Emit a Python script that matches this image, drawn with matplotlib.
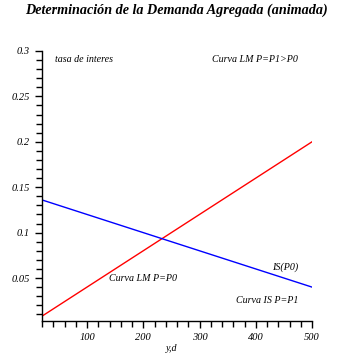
import numpy as np
import matplotlib
matplotlib.use("Agg")
import matplotlib.pyplot as plt
from matplotlib.ticker import MultipleLocator, FixedLocator

plt.rcdefaults()
plt.rcParams['font.family'] = ['Liberation Serif', 'DejaVu Serif']

y_vals = np.array([20, 500])
lm_p0 = np.array([0.008, 0.2])     # red, Curva LM P=P0
is_p0 = np.array([0.136, 0.04])    # blue, IS(P0)

x_ticks = [100, 200, 300, 400, 500]
y_ticks = [0.05, 0.1, 0.15, 0.2, 0.25, 0.3]
y_tick_labels = ['0.05', '0.1', '0.15', '0.2', '0.25', '0.3']

fig = plt.figure(figsize=(3.55, 3.55), dpi=100)
ax = fig.add_axes([42 / 355, 1 - 320.7 / 355, 270 / 355, 269.7 / 355])

ax.plot(y_vals, lm_p0, color='red', lw=1)
ax.plot(y_vals, is_p0, color='blue', lw=1)

ax.set_xlim(20, 500)
ax.set_ylim(0.003, 0.3)

for s in ['top', 'right']:
    ax.spines[s].set_visible(False)
for s in ['left', 'bottom']:
    ax.spines[s].set_linewidth(1)

ax.xaxis.set_major_locator(FixedLocator(x_ticks))
ax.xaxis.set_minor_locator(MultipleLocator(20))
ax.yaxis.set_major_locator(FixedLocator(y_ticks))
ax.yaxis.set_minor_locator(MultipleLocator(0.01))
ax.set_yticklabels(y_tick_labels)
ax.tick_params(which='both', direction='out', width=1, length=5, labelsize=7.5)
ax.tick_params(which='minor', length=4)
for lab in ax.get_xticklabels() + ax.get_yticklabels():
    lab.set_style('italic')

tkw = dict(fontsize=7.2, style='italic')
ax.text(43, 0.291, 'tasa de interes', ha='left', va='center', **tkw)
ax.text(399, 0.291, 'Curva LM P=P1>P0', ha='center', va='center', **tkw)
ax.text(199, 0.049, 'Curva LM P=P0', ha='center', va='center', **tkw)
ax.text(452, 0.0624, 'IS(P0)', ha='center', va='center', **tkw)
ax.text(420, 0.0248, 'Curva IS P=P1', ha='center', va='center', **tkw)

fig.text(176.5 / 355, 1 - 10 / 355, 'Determinación de la Demanda Agregada (animada)',
         ha='center', va='center', fontsize=10.2, weight='bold', style='italic')
fig.text(172 / 355, 1 - 353 / 355, 'y,d', ha='center', va='bottom', **tkw)

fig.savefig('out.png', dpi=100)
